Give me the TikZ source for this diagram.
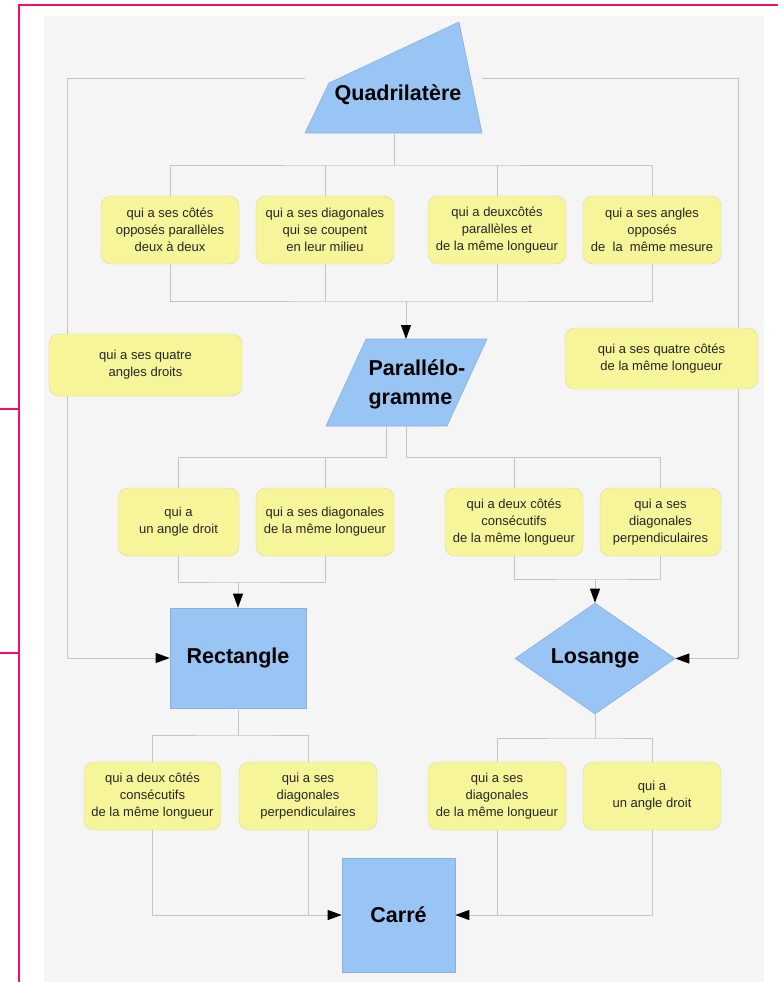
\documentclass[tikz,border=0pt]{standalone}
\usepackage{fontspec}
\setmainfont{Liberation Sans}
\usepackage{tikz}
\usetikzlibrary{positioning}
\usetikzlibrary{arrows.meta}
\usetikzlibrary{shapes.geometric}
\usepackage{xcolor}
\definecolor{bggray}{HTML}{F5F5F5}
\definecolor{fblue}{HTML}{99C5F5}
\definecolor{dblue}{HTML}{88B0DC}
\definecolor{fyellow}{HTML}{F7F59A}
\definecolor{dyellow}{HTML}{D9D7A2}
\definecolor{lgray}{HTML}{C4C4C4}
\definecolor{fpink}{HTML}{FF0A6C}

\begin{document}
\begin{tikzpicture}[x=1pt, y=-1pt,
  prop/.style={draw=dyellow, fill=fyellow, rounded corners=10pt, align=center,
    text=black!85, font=\fontsize{13}{17}\selectfont, minimum height=68pt, inner sep=2pt},
  fig/.style={draw=dblue, fill=fblue, line width=0.6pt},
  title/.style={font=\fontsize{21.5}{29}\selectfont\bfseries, align=center},
  link/.style={draw=lgray, line width=0.9pt},
  arr/.style={link, -{Triangle[length=14pt, width=10pt, color=black]}}]
  \useasboundingbox (0,0) rectangle (778,982);
  \fill[bggray] (44,16) rectangle (764,982);
  \draw[fpink, line width=2pt] (19,982) -- (19,5) -- (778,5);
  \draw[fpink, line width=2pt] (0,409) -- (19,409) (0,653) -- (19,653);

  % les figures
  \filldraw[fig] (305,133) -- (329,83) -- (459,22) -- (482,133) -- cycle;
  \node[title] (quad) at (398,95) {Quadrilatère};
  \filldraw[fig] (326,426) -- (366,339) -- (487,339) -- (447,426) -- cycle;
  \node[title, align=left] (para) at (417,384) {Parallélo-\\gramme};
  \node[fig, title, minimum width=136pt, minimum height=100pt] (rect) at (238,658) {Rectangle};
  \node[fig, title, diamond, aspect=1.44, inner sep=0pt, minimum width=160pt,
    minimum height=111pt] (los) at (595,658.5) {Losange};
  \node[fig, title, minimum width=113pt, minimum height=114pt] (carre) at (398.5,915) {Carré};

  % les propriétés
  \node[prop, minimum width=138pt] (a1) at (170,230) {qui a ses côtés\\opposés parallèles\\deux à deux};
  \node[prop, minimum width=138pt] (a2) at (325,230) {qui a ses diagonales\\qui se coupent\\en leur milieu};
  \node[prop, minimum width=138pt] (a3) at (497,230) {qui a deuxcôtés\\parallèles et\\de la même longueur};
  \node[prop, minimum width=138pt] (a4) at (652,230) {qui a ses angles\\opposés\\de\ \ la\ \ même mesure};
  \node[prop, minimum width=121pt] (b1) at (178.5,522) {qui a\\un angle droit};
  \node[prop, minimum width=138pt] (b2) at (325,522) {qui a ses diagonales\\de la même longueur};
  \node[prop, minimum width=138pt] (b3) at (514,522) {qui a deux côtés\\consécutifs\\de la même longueur};
  \node[prop, minimum width=121pt] (b4) at (660.5,522) {qui a ses\\diagonales\\perpendiculaires};
  \node[prop, minimum width=137pt] (c1) at (152.5,796) {qui a deux côtés\\consécutifs\\de la même longueur};
  \node[prop, minimum width=138pt] (c2) at (308,796) {qui a ses\\diagonales\\perpendiculaires};
  \node[prop, minimum width=138pt] (c3) at (497,796) {qui a ses\\diagonales\\de la même longueur};
  \node[prop, minimum width=138pt] (c4) at (652,796) {qui a\\un angle droit};

  % points de jonction
  \coordinate (qb) at (394,133);
  \coordinate (ql) at (305,78);
  \coordinate (qr) at (482,78);
  \coordinate (cl) at (67,78);
  \coordinate (cr) at (738,78);
  \coordinate (pt) at (406,339);
  \coordinate (pl) at (386,426);
  \coordinate (pr) at (406,426);
  \coordinate (j1) at (394,165);
  \coordinate (j2) at (406,301);
  \coordinate (j3) at (386,457);
  \coordinate (j4) at (406,457);
  \coordinate (j5) at (238,582);
  \coordinate (j6) at (595,579);
  \coordinate (j7) at (238,735);
  \coordinate (j8) at (595,738);

  % Quadrilatère -> Parallélogramme
  \draw[link] (qb) -- (j1);
  \draw[link] (a1.north) |- (j1) -| (a4.north);
  \draw[link] (a1.south) |- (j2) -| (a4.south);
  \foreach \n in {a2,a3} {
    \draw[link] (\n.north) -- (\n.north |- j1);
    \draw[link] (\n.south) -- (\n.south |- j2);
  }
  \draw[arr] (j2) -- (pt);
  \draw[arr] (ql) -- (cl) |- (rect.west);
  \draw[arr] (qr) -- (cr) |- (los.east);

  % Parallélogramme -> Rectangle, Losange
  \draw[link] (pl) -- (j3) -| (b1.north);
  \draw[link] (b2.north) -- (b2.north |- j3);
  \draw[link] (pr) -- (j4) -| (b4.north);
  \draw[link] (b3.north) -- (b3.north |- j4);
  \draw[link] (b1.south) |- (j5) -| (b2.south);
  \draw[arr] (j5) -- (rect.north);
  \draw[link] (b3.south) |- (j6) -| (b4.south);
  \draw[arr] (j6) -- (los.north);

  % Rectangle, Losange -> Carré
  \draw[link] (rect.south) -- (j7);
  \draw[link] (c1.north) |- (j7) -| (c2.north);
  \draw[link] (los.south) -- (j8);
  \draw[link] (c3.north) |- (j8) -| (c4.north);
  \draw[arr] (c1.south) |- (carre.west);
  \draw[link] (c2.south) -- (c2.south |- carre.west);
  \draw[arr] (c4.south) |- (carre.east);
  \draw[link] (c3.south) -- (c3.south |- carre.east);

  % par-dessus les lignes
  \node[prop, minimum width=193pt, minimum height=62pt] (s1) at (145.5,365) {qui a ses quatre\\angles droits};
  \node[prop, minimum width=193pt, minimum height=61pt] (s2) at (661.5,358.5) {qui a ses quatre côtés\\de la même longueur};
\end{tikzpicture}
\end{document}
